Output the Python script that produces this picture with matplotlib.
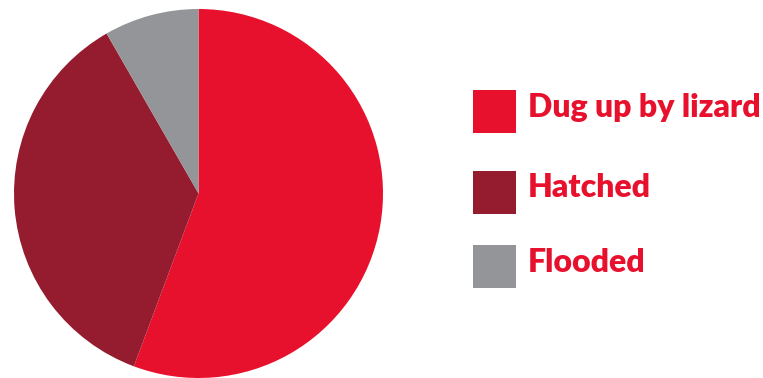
import matplotlib
matplotlib.use("Agg")
import matplotlib.pyplot as plt
from matplotlib.patches import Rectangle

categories = ["Dug up by lizard", "Hatched", "Flooded"]
values = [55.7, 36.0, 8.3]
colors = ["#E8112D", "#951B2F", "#939598"]
text_color = "#E8112D"

W, H = 763, 378
fig = plt.figure(figsize=(W / 100, H / 100), dpi=100)
cx, cy, r = 198.5, 193.5, 184.5
ax = fig.add_axes([(cx - r) / W, (H - cy - r) / H, 2 * r / W, 2 * r / H])
ax.pie(values, colors=colors, startangle=90, counterclock=False,
       wedgeprops=dict(linewidth=0))
ax.set_xlim(-1, 1)
ax.set_ylim(-1, 1)
ax.set_aspect("equal")
ax.axis("off")

sq_tops = [90, 170.7, 244.7]
baselines = [117, 197, 272]
for cat, col, top, base in zip(categories, colors, sq_tops, baselines):
    fig.patches.append(Rectangle((473 / W, (H - top - 43) / H), 43 / W, 43 / H,
                                 transform=fig.transFigure, color=col, lw=0))
    fig.text(528 / W, (H - base) / H, cat, color=text_color, fontsize=23,
             fontweight="heavy", family=["Lato", "DejaVu Sans"], va="baseline", ha="left")

fig.savefig("out.png", dpi=100)
